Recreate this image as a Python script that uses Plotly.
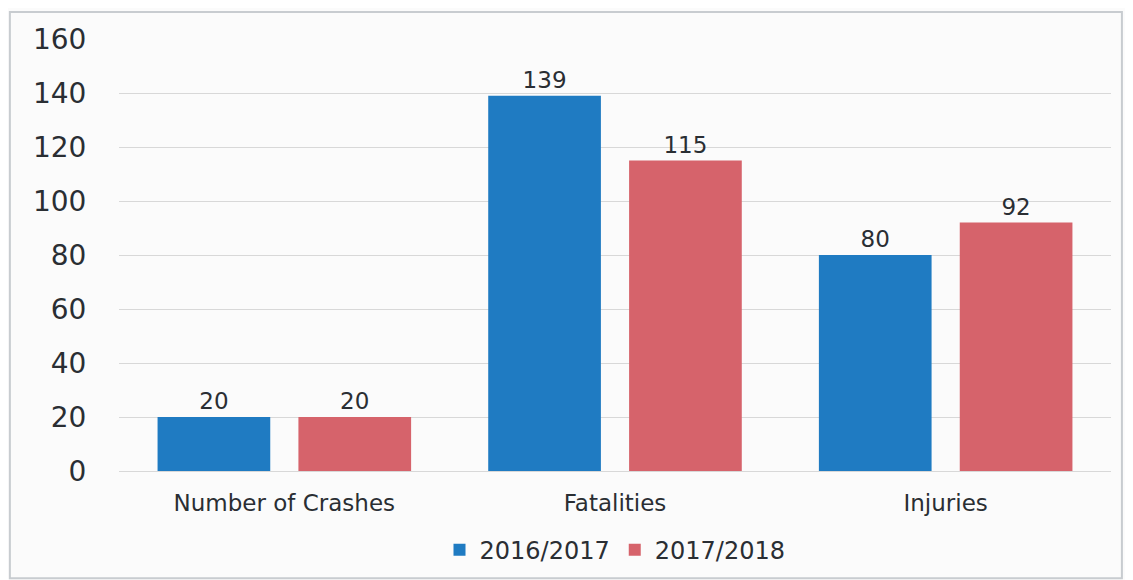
import plotly.graph_objects as go

categories = ["Number of Crashes", "Fatalities", "Injuries"]
series_names = ["2016/2017", "2017/2018"]
values_2016_2017 = [20, 139, 80]
values_2017_2018 = [20, 115, 92]
y_ticks = [0, 20, 40, 60, 80, 100, 120, 140, 160]

colors = ["#1f7bc2", "#d6636b"]
font_family = "DejaVu Sans, Verdana, sans-serif"
text_color = "#2a2e33"

fig = go.Figure()
for name, vals, col in zip(series_names, [values_2016_2017, values_2017_2018], colors):
    fig.add_trace(go.Bar(
        x=categories, y=vals, name=name, marker=dict(color=col, line=dict(width=0)),
        text=[str(v) for v in vals], textposition="outside",
        textfont=dict(size=23, color=text_color, family=font_family),
        cliponaxis=False,
    ))

fig.update_layout(
    width=1133, height=580,
    margin=dict(l=111, r=30, t=31, b=117, autoexpand=False),
    paper_bgcolor="#fbfbfb", plot_bgcolor="#fbfbfb",
    barmode="group", bargap=0.148, bargroupgap=0.2,
    font=dict(family=font_family, color=text_color),
    showlegend=True,
    legend=dict(orientation="h", x=0.5, xanchor="center", y=-0.183, yanchor="middle",
                font=dict(size=24, color=text_color), itemwidth=30, traceorder="normal"),
    uniformtext=dict(minsize=23, mode="show"),
)
fig.update_yaxes(range=[0, 160], tickvals=y_ticks, showgrid=True, gridcolor="#d8d8d8",
                 gridwidth=1, zeroline=True, zerolinecolor="#d8d8d8", zerolinewidth=1,
                 tickfont=dict(size=28, color=text_color), ticks="outside",
                 ticklen=26, tickcolor="rgba(0,0,0,0)", showline=False, automargin=False)
fig.update_xaxes(tickfont=dict(size=23, color=text_color), ticks="outside", ticklen=11,
                 tickcolor="rgba(0,0,0,0)", showline=False, automargin=False)

fig.add_shape(type="rect", xref="paper", yref="paper", x0=-0.11, x1=1.011, y0=-0.248, y1=1.0625,
              line=dict(color="#c8ccd0", width=2), fillcolor="rgba(0,0,0,0)", layer="below")

fig.write_html("out.html")
